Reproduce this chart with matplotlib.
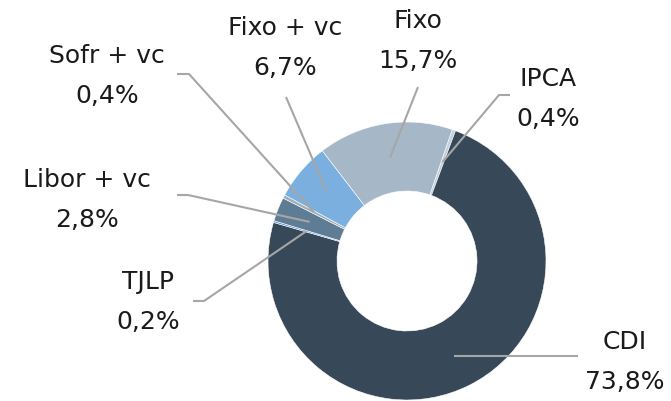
import numpy as np
import matplotlib
matplotlib.use("Agg")
import matplotlib.pyplot as plt

plt.rcParams['font.family'] = ['DejaVu Sans']

# composição da dívida por indexador
labels = ["IPCA", "CDI", "TJLP", "Libor + vc", "Sofr + vc", "Fixo + vc", "Fixo"]
values = [0.4, 73.8, 0.2, 2.8, 0.4, 6.7, 15.7]
colors = ["#C3CFDB", "#374858", "#5B95D5", "#5F7C95", "#9FAEBD", "#7BAFDF", "#A6B7C7"]

H = 402
cx, cy, R, W = 407, H - 262, 139, 69

# label block centre and leader line break points (pixel coords, y down)
text_pos = {
    "IPCA": (548, 99), "CDI": (625, 362), "TJLP": (148, 302),
    "Libor + vc": (87, 200), "Sofr + vc": (107, 76),
    "Fixo + vc": (285, 48), "Fixo": (418, 41),
}
leader = {
    "IPCA": [(499, 96), (510, 96)],
    "CDI": [(578, 357)],
    "TJLP": [(204, 302), (193, 302)],
    "Libor + vc": [(188, 196), (177, 196)],
    "Sofr + vc": [(189, 75), (177, 75)],
    "Fixo + vc": [(286, 98)],
    "Fixo": [(418, 88)],
}

fig = plt.figure(figsize=(6.71, 4.02), dpi=100)
ax = fig.add_axes([0, 0, 1, 1])
ax.set_xlim(0, 671)
ax.set_ylim(0, H)
ax.set_aspect("equal")
ax.axis("off")

wedges, _ = ax.pie(values, colors=colors, startangle=71, counterclock=False,
                   center=(cx, cy), radius=R,
                   wedgeprops=dict(width=W, edgecolor="white", linewidth=0.4))
ax.set_xlim(0, 671)
ax.set_ylim(0, H)

for w, lab, v in zip(wedges, labels, values):
    a = np.deg2rad((w.theta1 + w.theta2) / 2)
    ax0 = cx + 105 * np.cos(a)
    ay0 = cy + 105 * np.sin(a)
    if lab == "CDI":
        ay0 = H - 357
    xs = [ax0] + [p[0] for p in leader[lab]]
    ys = [ay0] + [H - p[1] for p in leader[lab]]
    ax.plot(xs, ys, color="#A6A6A6", lw=1.5, solid_capstyle="butt", zorder=5)
    tx, ty = text_pos[lab]
    txt = lab + "\n" + f"{v:.1f}".replace(".", ",") + "%"
    ax.text(tx, H - ty, txt, ha="center", va="center", fontsize=18,
            color="#1A1A1A", linespacing=1.85)

fig.savefig("out.png", dpi=100)
